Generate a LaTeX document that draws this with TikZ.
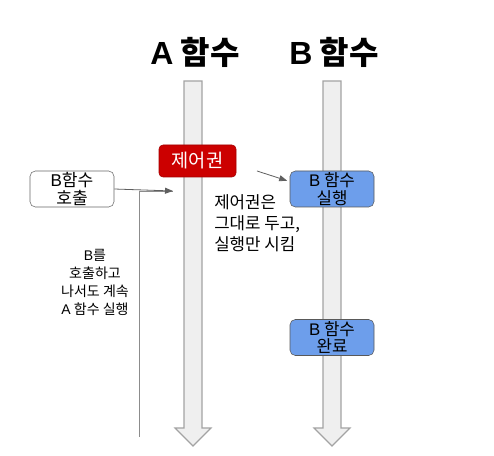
\documentclass[tikz,border=0pt]{standalone}
\usepackage{fontspec}
\setmainfont{Noto Sans CJK KR}
\newfontfamily\latfont{Liberation Sans}
\usetikzlibrary{arrows.meta}
\definecolor{lanefill}{HTML}{EFEFEF}
\definecolor{laneline}{HTML}{A3A3A3}
\definecolor{ctrlred}{HTML}{CC0000}
\definecolor{funcblue}{HTML}{6D9EEB}
\definecolor{linkgray}{HTML}{5F5F5F}
\newcommand{\lat}[1]{{\latfont #1}}
\begin{document}
\begin{tikzpicture}[x=0.75pt, y=-0.75pt,
	lane/.style={fill=lanefill, draw=laneline, line width=0.8pt},
	title/.style={font=\fontsize{24}{28}\selectfont\bfseries},
	ctrlbox/.style={fill=ctrlred, draw=ctrlred!80!black, text=white, rounded corners=3pt, minimum width=57.75pt, minimum height=24pt, inner sep=1pt, font=\fontsize{14}{15}\selectfont},
	callbox/.style={fill=white, draw=black!60, rounded corners=4pt, minimum width=63pt, minimum height=27pt, inner sep=1pt, align=center, font=\fontsize{12.8}{13.2}\selectfont},
	funcbox/.style={fill=funcblue, draw=black!65, rounded corners=4pt, minimum width=63pt, minimum height=27pt, inner sep=1pt, align=center, font=\fontsize{12.6}{13.2}\selectfont},
	note/.style={align=left, inner sep=0pt, font=\fontsize{12.6}{15.8}\selectfont},
	smallnote/.style={align=center, inner sep=0pt, font=\fontsize{10.5}{13.5}\selectfont},
	link/.style={draw=linkgray, line width=0.6pt, -{Triangle[length=6pt, width=4.5pt]}},
	plainlink/.style={draw=black!45, line width=0.6pt}]
\useasboundingbox (0,0) rectangle (494,456);
\draw[lane] (184,81) -- (202,81) -- (202,428) -- (211,428) -- (193,446) -- (175,428) -- (184,428) -- cycle;
\draw[lane] (323,81) -- (341,81) -- (341,428) -- (350,428) -- (332,446) -- (314,428) -- (323,428) -- cycle;
\node[title] (titleA) at (195,52) {\lat{A} 함수};
\node[title] (titleB) at (334,52) {\lat{B} 함수};
\node[ctrlbox] (ctrl) at (197.5,161) {제어권};
\node[callbox] (bcall) at (72,189) {\lat{B}함수\\호출};
\node[funcbox] (bexec) at (332,189) {\lat{B} 함수\\실행};
\node[funcbox] (bdone) at (332,337.5) {\lat{B} 함수\\완료};
\node[note, anchor=west] (keep) at (214,223) {제어권은\\그대로 두고,\\실행만 시킴};
\node[smallnote] (cont) at (95,282) {\lat{B}를\\호출하고\\나서도 계속\\\lat{A} 함수 실행};
\coordinate (callpt) at (173,191);
\coordinate (contbot) at (139,437);
\coordinate (ctrlout) at (257,171);
\draw[plainlink] (contbot) |- (callpt);
\draw[link] (bcall.east) -- (callpt);
\draw[link, shorten >=2pt] (ctrlout) -- (bexec.170);
\end{tikzpicture}
\end{document}
